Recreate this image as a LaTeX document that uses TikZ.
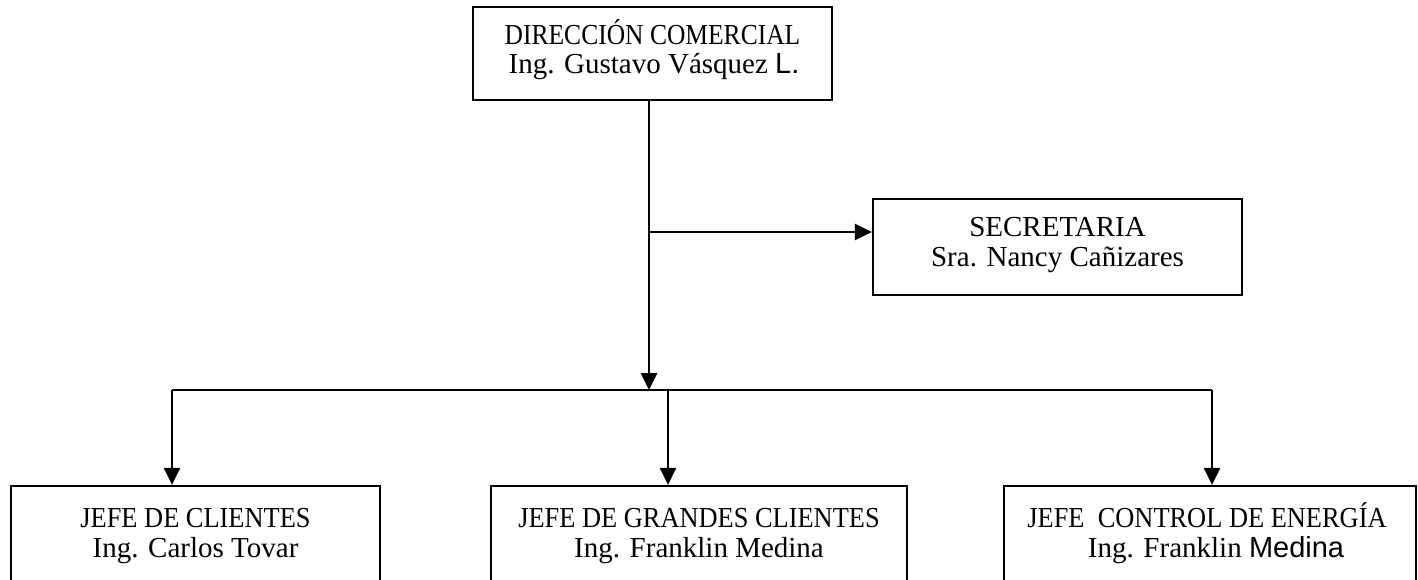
\documentclass[tikz,border=0pt]{standalone}
\usepackage{fontspec}
\setmainfont{Liberation Serif}
\newfontfamily\arialf{Liberation Sans}
\usepackage{graphicx}
\usetikzlibrary{arrows.meta,calc}
\newcommand\cp[2][0.91]{\scalebox{#1}[1]{#2}}
\begin{document}
\begin{tikzpicture}[x=1pt,y=-1pt,
 box/.style={draw, line width=2.2pt, rectangle, inner sep=0pt},
 txt/.style={anchor=base, inner sep=0pt, font=\fontsize{29}{30}\selectfont},
 conn/.style={line width=2.8pt, -{Triangle[length=17pt,width=16pt]}},
 bus/.style={line width=1.9pt}]
\useasboundingbox (0,0) rectangle (1418,580);
\clip (0,0) rectangle (1418,580);
% boxes
\node[box, minimum width=359pt, minimum height=93pt] (dir) at (652.5,53.5) {};
\node[box, minimum width=369pt, minimum height=96pt] (sec) at (1057.5,247) {};
\node[box, minimum width=369pt, minimum height=114pt] (jc) at (195.5,543) {};
\node[box, minimum width=416pt, minimum height=114pt] (jg) at (699,543) {};
\node[box, minimum width=412pt, minimum height=114pt] (je) at (1210,543) {};
% texts
\node[txt] (dirA) at (652.5,45) {\cp[0.88]{DIRECCIÓN COMERCIAL}};
\node[txt] (dirB) at (654,74) {Ing. Gustavo Vásquez {\arialf L.}};
\node[txt] (secA) at (1057.5,236) {SECRETARIA};
\node[txt] (secB) at (1057.5,266) {Sra. Nancy Cañizares};
\node[txt] (jcA) at (195.5,527) {\cp{JEFE DE CLIENTES}};
\node[txt] (jcB) at (195.5,557) {Ing. Carlos Tovar};
\node[txt] (jgA) at (699,527) {\cp{JEFE DE GRANDES CLIENTES}};
\node[txt] (jgB) at (699,557) {Ing. Franklin Medina};
\node[txt] (jeA) at (1207,527) {\cp{JEFE\ \ CONTROL DE ENERGÍA}};
\node[txt] (jeB) at (1216,557) {Ing. Franklin {\arialf Medina}};
% connectors
\coordinate (j) at (649,390);
\coordinate (s) at (649,232);
\coordinate (b1) at (172,390);
\coordinate (b2) at (668,390);
\coordinate (b3) at (1212,390);
\draw[conn] (dir.south -| j) -- (j);
\draw[conn] (s) -- (sec.west |- s);
\draw[bus] (b1) -- (b3);
\draw[conn] (b1) -- (b1 |- jc.north);
\draw[conn] (b2) -- (b2 |- jg.north);
\draw[conn] (b3) -- (b3 |- je.north);
\end{tikzpicture}
\end{document}
